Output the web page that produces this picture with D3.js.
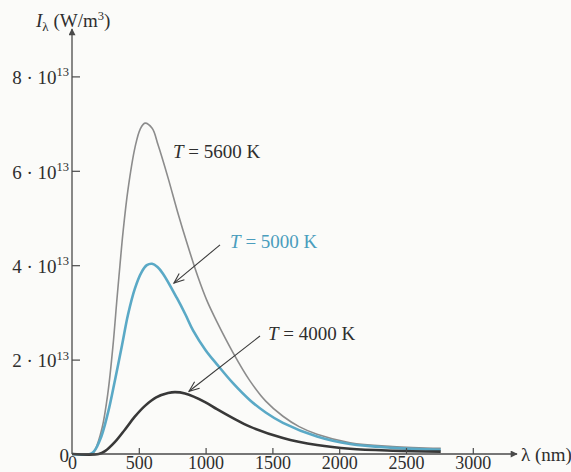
<!DOCTYPE html>
<meta charset="utf-8">
<script src="https://d3js.org/d3.v7.min.js"></script>
<style>
  body { margin: 0; background: #fbfbf9; }
  svg { display: block; }
  text { font-family: "Liberation Serif", "DejaVu Serif", serif; fill: #2e2e2e; }
</style>
<div id="graph"></div>
<script>
    // wavelengths (nm) and spectral intensity (units of 1e13 W/m^3)
    var lam5600 = [0, 150, 172, 225, 269, 307, 337, 359, 382, 419, 472, 510, 546, 600, 644, 719, 793, 868, 943, 1010, 1085, 1205, 1332, 1450, 1579, 1700, 1834, 2081, 2400, 2760]
    var int5600 = [0, 0, 0.08, 0.55, 1.3, 2.3, 3.3, 4.0, 4.7, 5.6, 6.5, 6.88, 7.01, 6.9, 6.55, 5.85, 5.1, 4.4, 3.75, 3.25, 2.8, 2.15, 1.55, 1.12, 0.8, 0.58, 0.42, 0.24, 0.16, 0.12]

    var lam5000 = [0, 150, 210, 269, 322, 374, 419, 470, 520, 560, 599, 640, 681, 786, 850, 906, 1000, 1085, 1205, 1332, 1450, 1579, 1834, 2081, 2400, 2760]
    var int5000 = [0, 0.02, 0.30, 0.87, 1.57, 2.3, 2.95, 3.5, 3.85, 4.0, 4.03, 3.96, 3.82, 3.3, 2.95, 2.62, 2.2, 1.9, 1.5, 1.14, 0.88, 0.66, 0.37, 0.21, 0.13, 0.09]

    var lam4000 = [0, 200, 247, 320, 397, 470, 546, 630, 719, 771, 846, 996, 1085, 1205, 1332, 1579, 1834, 2081, 2400, 2760]
    var int4000 = [0, 0, 0.06, 0.25, 0.52, 0.79, 1.02, 1.2, 1.29, 1.31, 1.28, 1.1, 0.95, 0.76, 0.58, 0.34, 0.19, 0.11, 0.07, 0.05]

    var xTicks = [0, 500, 1000, 1500, 2000, 2500, 3000]
    var yTicks = [0, 2, 4, 6, 8]   // mantissa of x·10^13

    // curve labels: text, anchor point of label, arrow start and arrow end (data units)
    var labelText = ["5600 K", "5000 K", "4000 K"]
    var labelAt = [[756, 6.27], [1183, 4.36], [1467, 2.42]]
    var arrowFrom = [null, [1108, 4.43], [1407, 2.50]]
    var arrowTo = [null, [763, 3.62], [876, 1.33]]

    var series = [
        {lam: lam5600, val: int5600, color: "#8c8c8c", w: 1.6, textColor: "#2e2e2e"},
        {lam: lam5000, val: int5000, color: "#5aa9c6", w: 2.6, textColor: "#4a9dbd"},
        {lam: lam4000, val: int4000, color: "#383838", w: 2.6, textColor: "#2e2e2e"}
    ]

    var width = 571, height = 472

    var svg = d3.select("#graph")
        .append("svg")
        .attr("width", width)
        .attr("height", height)

    var x = d3.scaleLinear().domain([0, 3000]).range([72, 472.8])
    var y = d3.scaleLinear().domain([0, 8]).range([454, 76.4])

    var axisColor = "#4a4a4a"

    // arrow heads for the axes
    var defs = svg.append("defs")
    defs.append("marker")
        .attr("id", "axisArrow")
        .attr("viewBox", "0 0 10 10")
        .attr("refX", 9).attr("refY", 5)
        .attr("markerWidth", 9).attr("markerHeight", 7)
        .attr("markerUnits", "userSpaceOnUse")
        .attr("orient", "auto")
        .append("path")
        .attr("d", "M0,0 L10,5 L0,10 z")
        .attr("fill", axisColor)

    // curves
    var line = d3.line()
        .x(function (d) { return x(d[0]) })
        .y(function (d) { return y(Math.max(0, d[1])) })
        .curve(d3.curveCatmullRom.alpha(0.5))

    series.forEach(function (s) {
        var pts = s.lam.map(function (l, i) { return [l, s.val[i]] })
        svg.append("path")
            .attr("d", line(pts))
            .attr("fill", "none")
            .attr("stroke", s.color)
            .attr("stroke-width", s.w)
            .attr("stroke-linejoin", "round")
    })

    // x axis
    var xAxis = svg.append("g")
        .attr("transform", "translate(0," + y(0) + ")")
        .call(d3.axisBottom(x).tickValues(xTicks).tickFormat(d3.format("d"))
            .tickSizeInner(-6).tickSizeOuter(0).tickPadding(2))
    xAxis.select(".domain").remove()
    xAxis.selectAll("line").attr("stroke", axisColor).attr("stroke-width", 1.2)
        .filter(function (d) { return d === 0 }).remove()
    xAxis.selectAll("text").attr("font-size", "18px").attr("font-family", "Liberation Serif, serif").attr("fill", "#2e2e2e")

    svg.append("line")
        .attr("x1", x(0)).attr("x2", 517)
        .attr("y1", y(0)).attr("y2", y(0))
        .attr("stroke", axisColor).attr("stroke-width", 1.3)
        .attr("marker-end", "url(#axisArrow)")

    svg.append("text")
        .attr("x", 521).attr("y", 461)
        .attr("font-size", "19px")
        .text("λ (nm)")

    // y axis
    var yAxis = svg.append("g")
        .attr("transform", "translate(" + x(0) + ",0)")
        .call(d3.axisLeft(y).tickValues(yTicks).tickSizeInner(-8).tickSizeOuter(0).tickPadding(3).tickFormat(""))
    yAxis.select(".domain").remove()
    yAxis.selectAll("line").attr("stroke", axisColor).attr("stroke-width", 1.2)
        .filter(function (d) { return d === 0 }).remove()
    yAxis.selectAll("text")
        .attr("font-size", "19px").attr("font-family", "Liberation Serif, serif").attr("fill", "#2e2e2e")
        .attr("x", -3).attr("dy", "0.38em")
        .each(function (d) {
            var t = d3.select(this)
            if (d === 0) { t.text("0"); return }
            t.append("tspan").text(d + " · 10")
            t.append("tspan").attr("font-size", "12.5px").attr("dy", "-0.62em").text("13")
        })

    svg.append("line")
        .attr("x1", x(0)).attr("x2", x(0))
        .attr("y1", y(0)).attr("y2", 29)
        .attr("stroke", axisColor).attr("stroke-width", 1.3)
        .attr("marker-end", "url(#axisArrow)")

    var yTitle = svg.append("text")
        .attr("x", 36).attr("y", 27)
        .attr("font-size", "19px")
    yTitle.append("tspan").attr("font-style", "italic").text("I")
    yTitle.append("tspan").attr("font-size", "13px").attr("dy", "4").text("λ")
    yTitle.append("tspan").attr("dy", "-4").text(" (W/m")
    yTitle.append("tspan").attr("font-size", "12.5px").attr("dy", "-7").text("3")
    yTitle.append("tspan").attr("dy", "7").text(")")

    // curve labels and pointer arrows
    series.forEach(function (s, i) {
        var lbl = svg.append("text")
            .attr("x", x(labelAt[i][0])).attr("y", y(labelAt[i][1]))
            .attr("font-size", "19px")
            .attr("fill", s.textColor)
        lbl.append("tspan").attr("font-style", "italic").attr("fill", s.textColor).text("T")
        lbl.append("tspan").attr("fill", s.textColor).text(" = " + labelText[i])

        if (arrowFrom[i]) {
            var x1 = x(arrowFrom[i][0]), y1 = y(arrowFrom[i][1])
            var x2 = x(arrowTo[i][0]), y2 = y(arrowTo[i][1])
            svg.append("line")
                .attr("x1", x1).attr("y1", y1).attr("x2", x2).attr("y2", y2)
                .attr("stroke", "#3a3a3a").attr("stroke-width", 1.1)
            var ang = Math.atan2(y1 - y2, x1 - x2), len = 11, spread = 0.38
            svg.append("path")
                .attr("d", "M" + (x2 + len * Math.cos(ang - spread)) + "," + (y2 + len * Math.sin(ang - spread)) +
                    " L" + x2 + "," + y2 +
                    " L" + (x2 + len * Math.cos(ang + spread)) + "," + (y2 + len * Math.sin(ang + spread)))
                .attr("fill", "none")
                .attr("stroke", "#3a3a3a").attr("stroke-width", 1.1)
        }
    })
</script>
